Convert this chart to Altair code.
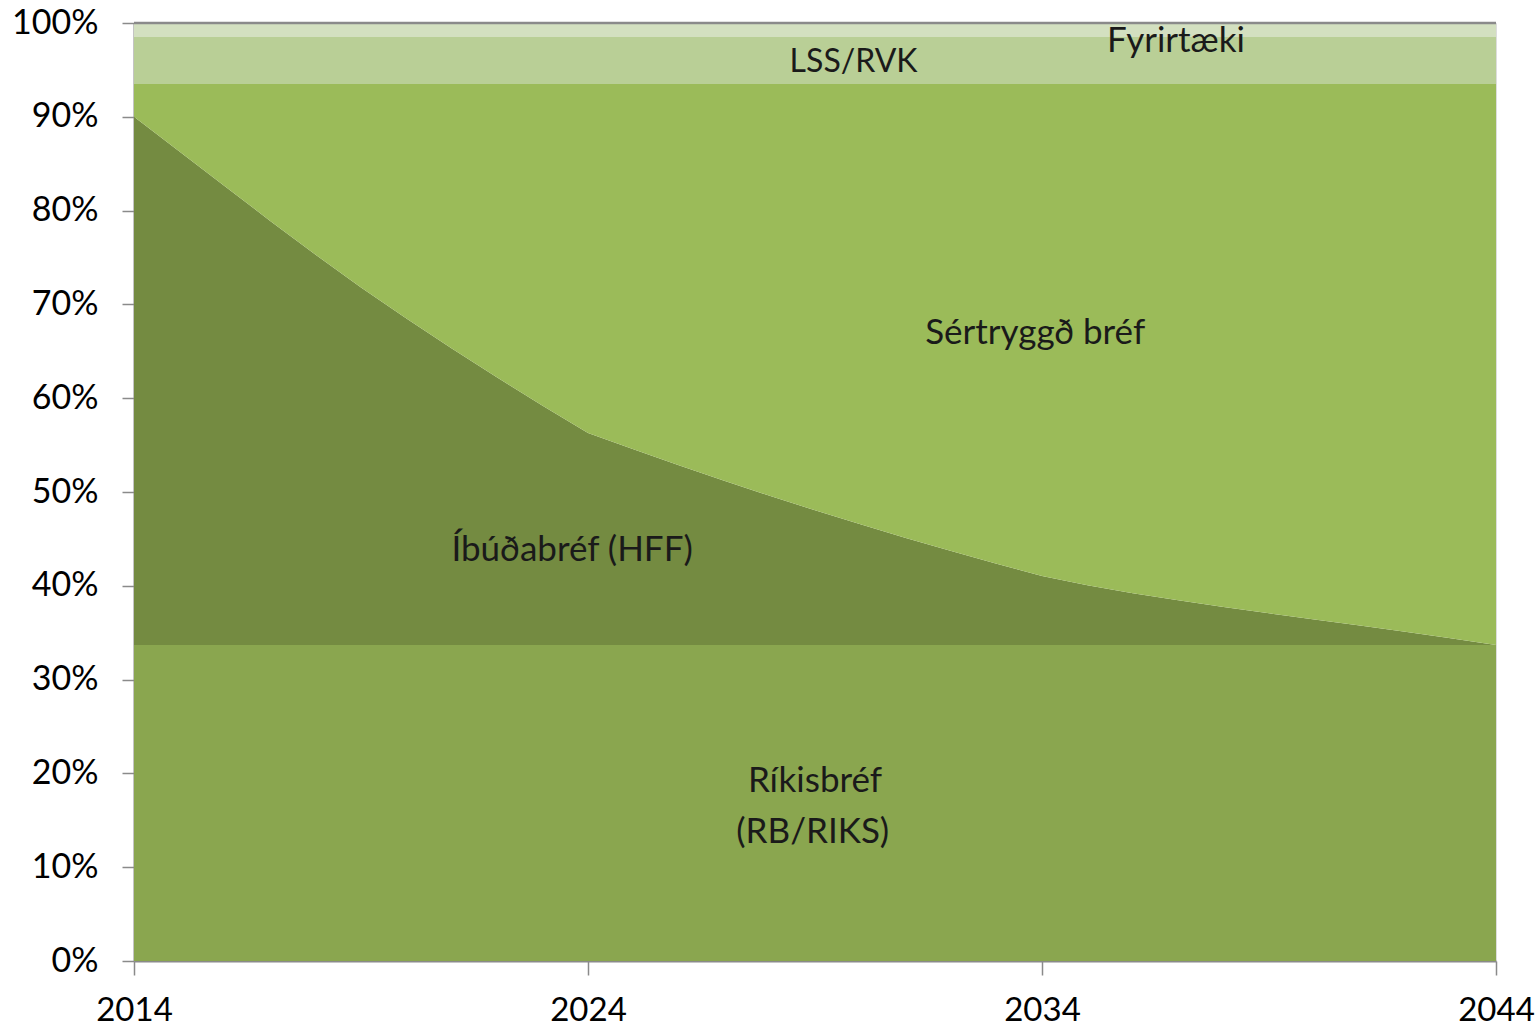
import altair as alt
import pandas as pd

years = list(range(2014, 2045))

rikisbref = [33.7] * 31
ibudabref = [56.3, 52.6, 48.9, 45.2, 41.6, 38.1, 34.8, 31.6, 28.5, 25.5, 22.6,
             20.85, 19.15, 17.5, 15.9, 14.35, 12.85, 11.4, 10.0, 8.65, 7.35,
             6.35, 5.5, 4.75, 4.05, 3.37, 2.71, 2.06, 1.41, 0.72, 0.0]
sertryggd = [3.5, 7.2, 10.9, 14.6, 18.2, 21.7, 25.0, 28.2, 31.3, 34.3, 37.2,
             38.95, 40.65, 42.3, 43.9, 45.45, 46.95, 48.4, 49.8, 51.15, 52.45,
             53.45, 54.3, 55.05, 55.75, 56.43, 57.09, 57.74, 58.39, 59.08, 59.8]
lss_rvk = [5.0] * 31
fyrirtaeki = [1.5] * 31

series_names = ["Ríkisbréf", "Íbúðabréf (HFF)", "Sértryggð bréf", "LSS/RVK", "Fyrirtæki"]
series_values = [rikisbref, ibudabref, sertryggd, lss_rvk, fyrirtaeki]
series_colors = ["#8aa64f", "#748b41", "#9bbb59", "#b9cf96", "#d3e0c0"]

x_ticks = [2014, 2024, 2034, 2044]
y_ticks = [0, 10, 20, 30, 40, 50, 60, 70, 80, 90, 100]

label_texts = ["LSS/RVK", "Fyrirtæki", "Sértryggð bréf", "Íbúðabréf (HFF)", "Ríkisbréf", "(RB/RIKS)"]
label_x = [2029.85, 2036.95, 2033.85, 2023.65, 2029.0, 2028.95]
label_y = [95.8, 98.1, 66.9, 43.8, 19.2, 13.8]
label_size = [32, 35, 35, 35, 35, 35]

rows = []
for i, (name, vals) in enumerate(zip(series_names, series_values)):
    for yr, v in zip(years, vals):
        rows.append({"year": yr, "series": name, "value": v, "ord": i})
df = pd.DataFrame(rows)

labels_df = pd.DataFrame({"text": label_texts, "x": label_x, "y": label_y, "size": label_size})

FONT = "Lato"
x_scale = alt.Scale(domain=[2014, 2044], nice=False, zero=False)
y_scale = alt.Scale(domain=[0, 100], nice=False)

x_enc = alt.X("year:Q", scale=x_scale,
              axis=alt.Axis(values=x_ticks, format="d", title=None, grid=False,
                            domainColor="#8a8a8a", domainWidth=2,
                            tickColor="#8a8a8a", tickWidth=1.5, tickSize=14,
                            labelFontSize=33, labelFont=FONT, labelColor="#000000",
                            labelPadding=19, labelFlush=False, labelOverlap=False))

area = alt.Chart(df).mark_area(opacity=1).encode(
    x=x_enc,
    y=alt.Y("value:Q", stack="zero", scale=y_scale,
            axis=alt.Axis(values=y_ticks, labelExpr="datum.value + '%'", title=None, grid=False,
                          domainColor="#8a8a8a", domainWidth=2,
                          tickColor="#8a8a8a", tickWidth=1.5, tickSize=12,
                          labelFontSize=34, labelFont=FONT, labelColor="#000000",
                          labelPadding=24)),
    color=alt.Color("series:N", scale=alt.Scale(domain=series_names, range=series_colors), legend=None),
    order=alt.Order("ord:Q", sort="ascending"),
)

top_border = alt.Chart(pd.DataFrame({"y": [100]})).mark_rule(color="#8a8a8a", strokeWidth=2.5).encode(
    y=alt.Y("y:Q", scale=y_scale), x=alt.value(0), x2=alt.value(1362)
)

texts = alt.Chart(labels_df).mark_text(font=FONT, color="#1a1a1a",
                                        align="center", baseline="middle").encode(
    x=alt.X("x:Q", scale=x_scale),
    y=alt.Y("y:Q", scale=y_scale),
    text="text:N",
    size=alt.Size("size:Q", scale=None, legend=None),
)

chart = alt.layer(area, top_border, texts).properties(
    width=1362, height=938,
    autosize=alt.AutoSizeParams(type="none"),
    padding={"left": 134, "top": 23, "right": 43, "bottom": 73},
).configure_view(stroke=None).configure(background="#ffffff")

chart.save("out.html", embed_options={"renderer": "svg", "actions": False})
